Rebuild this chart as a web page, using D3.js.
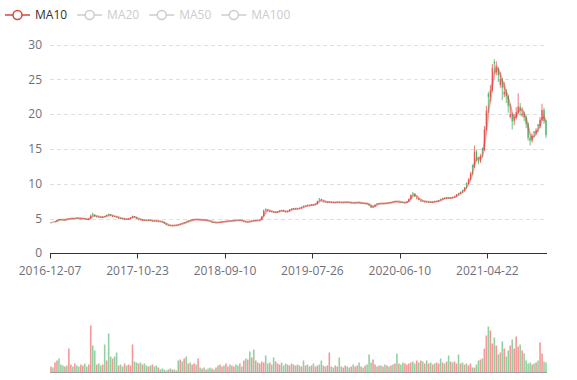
<!DOCTYPE html>
<html>
<head>
<meta charset="utf-8">
<script src="https://cdn.jsdelivr.net/npm/d3@7"></script>
<style>
    html, body { margin: 0; padding: 0; background: #fff; }
    svg { display: block; font-family: "Open Sans", sans-serif; }
</style>
</head>
<body>
<div class="kline-container"></div>
<script>
// category ticks (one data point ~ 4 trading days)
const tickLabels = ["2016-12-07", "2017-10-23", "2018-09-10", "2019-07-26", "2020-06-10", "2021-04-22"];
const tickIndex = [0, 44, 88, 132, 176, 220];
const priceTicks = [0, 5, 10, 15, 20, 25, 30];
const legendNames = ["MA10", "MA20", "MA50", "MA100"];
const maWindow = 3; // ~10 trading days at this sampling

// [open, close, lowest, highest]
const candles = [
    [4.40,4.45,4.35,4.50],[4.58,4.55,4.42,4.60],[4.55,4.60,4.50,4.66],[4.62,4.80,4.58,4.85],[4.95,4.90,4.76,4.98],[4.92,4.85,4.80,4.95],[4.86,4.80,4.74,4.90],[4.80,4.85,4.76,4.90],[4.98,4.95,4.82,5.00],[4.95,5.00,4.90,5.06],
    [5.00,5.05,4.96,5.12],[5.06,5.00,4.95,5.10],[5.00,5.05,4.97,5.08],[5.14,5.10,5.00,5.15],[5.10,5.05,5.00,5.14],[4.98,5.00,4.94,5.08],[5.00,5.05,4.96,5.10],[5.04,4.95,4.90,5.06],[4.96,4.85,4.80,4.98],[4.86,5.00,4.84,5.05],
    [5.02,5.45,5.00,5.60],[5.70,5.55,5.40,5.85],[5.55,5.35,5.30,5.60],[5.26,5.30,5.22,5.40],[5.30,5.25,5.18,5.34],[5.26,5.20,5.14,5.28],[5.20,5.25,5.16,5.30],[5.38,5.35,5.22,5.40],[5.36,5.50,5.32,5.58],[5.66,5.60,5.45,5.72],
    [5.60,5.45,5.40,5.64],[5.32,5.35,5.30,5.50],[5.36,5.30,5.24,5.40],[5.30,5.20,5.15,5.32],[5.06,5.10,5.05,5.24],[5.10,5.05,5.00,5.14],[5.06,5.00,4.95,5.08],[4.92,4.95,4.90,5.04],[4.97,4.95,4.88,5.00],[4.95,5.00,4.92,5.05],
    [5.00,5.15,4.98,5.20],[5.15,5.35,5.12,5.45],[5.34,5.20,5.15,5.38],[5.20,5.00,4.96,5.22],[4.86,4.90,4.85,5.02],[4.90,4.85,4.80,4.94],[4.78,4.80,4.76,4.90],[4.82,4.80,4.74,4.84],[4.80,4.75,4.70,4.82],[4.75,4.80,4.72,4.84],
    [4.80,4.75,4.70,4.82],[4.68,4.70,4.66,4.78],[4.72,4.70,4.64,4.74],[4.70,4.65,4.60,4.72],[4.58,4.60,4.56,4.68],[4.62,4.60,4.54,4.64],[4.60,4.50,4.45,4.62],[4.50,4.30,4.25,4.52],[4.30,4.10,4.05,4.32],[4.02,4.05,3.98,4.14],
    [4.05,4.00,3.92,4.08],[3.98,4.00,3.94,4.04],[4.08,4.05,3.96,4.10],[4.04,4.10,4.00,4.14],[4.18,4.15,4.06,4.20],[4.15,4.25,4.12,4.30],[4.38,4.35,4.22,4.40],[4.35,4.45,4.32,4.50],[4.58,4.55,4.42,4.60],[4.55,4.70,4.52,4.76],
    [4.78,4.75,4.64,4.80],[4.75,4.85,4.72,4.92],[4.85,4.90,4.80,4.96],[4.92,4.85,4.80,4.95],[4.85,4.90,4.82,4.96],[4.90,4.80,4.76,4.92],[4.80,4.85,4.76,4.90],[4.85,4.80,4.75,4.88],[4.72,4.75,4.70,4.82],[4.75,4.70,4.65,4.78],
    [4.70,4.60,4.56,4.72],[4.46,4.50,4.45,4.62],[4.50,4.45,4.40,4.52],[4.44,4.45,4.40,4.50],[4.52,4.50,4.42,4.54],[4.46,4.50,4.45,4.56],[4.50,4.55,4.46,4.60],[4.62,4.60,4.52,4.64],[4.56,4.60,4.55,4.66],[4.60,4.65,4.57,4.70],
    [4.72,4.70,4.62,4.75],[4.68,4.70,4.65,4.76],[4.70,4.75,4.66,4.80],[4.82,4.80,4.72,4.86],[4.80,4.75,4.70,4.82],[4.75,4.80,4.72,4.85],[4.80,4.70,4.66,4.82],[4.56,4.60,4.55,4.72],[4.60,4.50,4.45,4.62],[4.50,4.55,4.46,4.60],
    [4.68,4.65,4.52,4.70],[4.65,4.70,4.62,4.75],[4.72,4.70,4.65,4.76],[4.70,4.75,4.66,4.80],[4.84,4.80,4.72,4.85],[4.76,4.80,4.74,4.86],[4.82,5.30,4.80,5.35],[5.35,6.20,5.30,6.30],[6.40,6.30,6.05,6.50],[6.30,6.15,6.08,6.35],
    [6.00,6.05,5.98,6.20],[6.05,6.00,5.92,6.10],[6.00,5.95,5.88,6.04],[5.84,5.90,5.82,6.00],[5.90,6.00,5.86,6.06],[6.00,6.15,5.96,6.22],[6.24,6.20,6.08,6.28],[6.20,6.05,6.00,6.24],[6.05,5.95,5.88,6.08],[5.95,6.10,5.92,6.16],
    [6.10,6.30,6.06,6.38],[6.45,6.40,6.24,6.48],[6.40,6.45,6.34,6.52],[6.46,6.40,6.32,6.50],[6.40,6.45,6.36,6.50],[6.54,6.50,6.40,6.56],[6.50,6.65,6.46,6.72],[6.85,6.80,6.60,6.88],[6.80,6.85,6.74,6.92],[6.98,6.95,6.80,7.02],
    [6.96,6.90,6.82,7.00],[6.90,7.00,6.86,7.06],[7.02,7.00,6.94,7.08],[7.00,7.10,6.96,7.16],[7.10,7.50,7.06,7.60],[7.90,7.80,7.44,7.95],[7.80,7.60,7.52,7.86],[7.40,7.45,7.38,7.64],[7.46,7.40,7.32,7.50],[7.30,7.35,7.28,7.44],
    [7.35,7.40,7.30,7.46],[7.40,7.35,7.28,7.44],[7.36,7.30,7.24,7.40],[7.30,7.35,7.26,7.40],[7.35,7.40,7.30,7.46],[7.40,7.35,7.30,7.44],[7.36,7.30,7.24,7.38],[7.30,7.35,7.26,7.40],[7.35,7.40,7.30,7.46],[7.40,7.35,7.28,7.42],
    [7.36,7.30,7.24,7.40],[7.28,7.30,7.22,7.36],[7.30,7.25,7.20,7.34],[7.25,7.30,7.20,7.35],[7.30,7.35,7.26,7.40],[7.36,7.30,7.24,7.40],[7.22,7.25,7.18,7.32],[7.26,7.20,7.14,7.30],[7.18,7.20,7.12,7.26],[7.20,7.10,7.04,7.22],
    [7.10,6.90,6.84,7.12],[6.90,6.60,6.50,6.94],[6.60,6.75,6.55,6.82],[6.76,7.00,6.72,7.06],[7.20,7.15,6.96,7.22],[7.15,7.20,7.10,7.26],[7.20,7.15,7.08,7.24],[7.15,7.20,7.10,7.26],[7.22,7.20,7.14,7.28],[7.20,7.25,7.16,7.30],
    [7.34,7.30,7.20,7.36],[7.30,7.35,7.26,7.42],[7.44,7.40,7.30,7.46],[7.40,7.50,7.36,7.56],[7.50,7.45,7.38,7.54],[7.36,7.40,7.34,7.50],[7.40,7.35,7.28,7.44],[7.36,7.30,7.24,7.40],[7.28,7.30,7.22,7.36],[7.30,7.45,7.26,7.52],
    [7.45,7.80,7.40,7.90],[7.80,8.40,7.76,8.50],[8.70,8.60,8.30,8.80],[8.60,8.20,8.10,8.66],[7.86,7.90,7.84,8.24],[7.90,7.70,7.62,7.94],[7.50,7.55,7.48,7.74],[7.56,7.50,7.40,7.60],[7.40,7.45,7.36,7.54],[7.46,7.40,7.30,7.50],
    [7.38,7.40,7.28,7.46],[7.40,7.35,7.26,7.44],[7.35,7.40,7.28,7.46],[7.54,7.50,7.36,7.56],[7.46,7.50,7.42,7.58],[7.50,7.60,7.44,7.66],[7.84,7.80,7.56,7.86],[7.80,7.90,7.72,7.98],[7.98,7.95,7.80,8.02],[7.95,8.00,7.86,8.08],
    [8.02,7.95,7.88,8.06],[7.95,8.00,7.86,8.08],[8.10,8.05,7.92,8.14],[8.05,8.20,8.00,8.28],[8.20,8.45,8.14,8.55],[8.68,8.60,8.38,8.72],[8.60,8.80,8.52,8.90],[9.10,9.00,8.70,9.15],[9.00,9.40,8.92,9.55],[10.10,10.00,9.30,10.20],
    [10.00,10.60,9.90,10.80],[10.60,11.40,10.50,11.70],[12.60,12.40,11.30,12.80],[12.40,14.60,12.30,15.50],[14.60,13.50,13.20,14.90],[13.50,13.20,12.80,13.80],[13.20,14.00,13.00,14.30],[15.10,14.80,13.80,15.20],[14.80,17.80,14.70,18.30],[17.80,20.50,17.60,21.20],
    [22.90,22.50,20.20,23.20],[22.50,23.40,21.80,24.20],[23.40,26.60,23.20,27.20],[27.50,27.30,25.80,27.90],[26.00,26.50,25.60,27.60],[26.50,25.60,24.60,26.80],[24.20,25.00,23.80,26.00],[25.00,23.80,22.00,25.20],[22.80,23.20,22.40,24.60],[23.20,22.60,21.60,23.60],
    [22.60,21.20,20.20,22.80],[19.60,20.00,19.40,21.40],[20.00,19.00,17.80,20.20],[19.00,19.50,18.40,20.00],[19.50,20.30,19.20,21.00],[20.30,21.10,20.00,23.00],[21.10,20.60,19.80,21.60],[19.80,20.10,19.60,21.00],[20.10,19.50,19.00,20.40],[19.50,18.60,18.00,19.80],
    [18.60,16.60,16.20,18.80],[16.60,16.20,15.50,16.90],[16.20,16.90,15.90,17.20],[17.50,17.30,16.70,17.60],[17.30,17.70,17.00,18.00],[18.50,18.30,17.40,18.60],[18.30,19.20,18.00,19.60],[19.20,20.60,19.00,21.50],[20.60,19.00,18.60,20.90],[19.00,17.00,16.60,19.20]
];

// volume, 10k lots
const volumes = [
    6,5,10,12,14,8,7,6,7,24,
    8,6,9,7,6,8,7,9,6,8,
    47,27,22,8,9,7,8,28,12,39,
    16,14,16,20,7,8,6,9,7,8,
    7,28,11,10,9,10,8,9,7,6,
    7,8,6,7,5,3,4,3,2,3,
    4,3,3,2,12,13,11,14,16,9,
    10,8,9,8,14,5,4,5,3,4,
    5,4,3,5,7,8,6,7,9,6,
    8,7,6,8,7,9,6,12,14,13,
    21,15,23,12,10,9,11,10,17,9,
    10,8,15,11,9,8,10,7,9,8,
    7,9,8,7,8,7,6,12,7,8,
    6,7,9,6,7,8,12,7,6,7,
    20,6,5,7,6,15,6,5,7,6,
    5,6,8,6,7,10,6,5,7,8,
    18,10,13,8,6,7,7,6,8,7,
    6,7,8,9,19,9,8,10,9,8,
    9,10,11,9,12,10,12,11,9,12,
    9,10,8,9,10,9,14,10,9,11,
    17,11,10,11,9,18,9,10,8,9,
    7,9,5,5,8,12,13,14,24,37,
    46,42,29,35,27,18,20,31,24,16,
    22,27,33,24,36,26,28,22,19,12,
    9,10,8,9,10,12,30,19,11,10
];

const KLineChart = {
    width: 577,
    height: 380,
    left: 50,
    right: 547,
    priceTop: 44.5,
    priceBottom: 253.5,
    volTop: 324.5,
    volBottom: 372.5,
    upColor: "#eb5454",
    downColor: "#47b262",
    maColor: "#d9473f",
    svg: {},
    load: function() {
        this.svg = d3.select(".kline-container")
            .append("svg")
            .attr("width", this.width)
            .attr("height", this.height)
            .attr("font-size", 12);

        const x = d3.scaleBand()
            .domain(d3.range(candles.length))
            .range([this.left, this.right]);
        const y = d3.scaleLinear()
            .domain([0, 30])
            .range([this.priceBottom, this.priceTop]);
        const yVol = d3.scaleLinear()
            .domain([0, 48])
            .range([this.volBottom, this.volTop]);

        const bw = x.bandwidth();
        const cx = i => x(i) + bw / 2;
        const color = d => d[1] >= d[0] ? this.upColor : this.downColor;

        // grid lines
        this.svg.append("g")
            .selectAll("line")
            .data(priceTicks.filter(v => v > 0))
            .join("line")
            .attr("x1", this.left)
            .attr("x2", this.right)
            .attr("y1", d => Math.round(y(d)) + 0.5)
            .attr("y2", d => Math.round(y(d)) + 0.5)
            .attr("stroke", "#e0e0e0")
            .attr("stroke-dasharray", "4,3");

        // y labels
        this.svg.append("g")
            .attr("text-anchor", "end")
            .attr("fill", "#6e7079")
            .selectAll("text")
            .data(priceTicks)
            .join("text")
            .attr("x", this.left - 8)
            .attr("y", d => y(d))
            .attr("dy", d => d === 0 ? "0.25em" : "0.35em")
            .text(d => d);

        // x axis
        const axis = this.svg.append("g");
        axis.append("line")
            .attr("x1", this.left)
            .attr("x2", this.right)
            .attr("y1", this.priceBottom)
            .attr("y2", this.priceBottom)
            .attr("stroke", "#333");
        axis.selectAll(".tick")
            .data(tickIndex)
            .join("line")
            .attr("class", "tick")
            .attr("x1", d => Math.round(x(d)) + 0.5)
            .attr("x2", d => Math.round(x(d)) + 0.5)
            .attr("y1", this.priceBottom)
            .attr("y2", this.priceBottom + 5)
            .attr("stroke", "#333");
        axis.selectAll("text")
            .data(tickIndex)
            .join("text")
            .attr("x", d => x(d))
            .attr("y", this.priceBottom + 21)
            .attr("text-anchor", "middle")
            .attr("fill", "#6e7079")
            .text((d, i) => tickLabels[i]);

        // candles
        const candle = this.svg.append("g")
            .selectAll("g")
            .data(candles)
            .join("g");

        candle.append("line")
            .attr("x1", (d, i) => cx(i))
            .attr("x2", (d, i) => cx(i))
            .attr("y1", d => y(d[3]))
            .attr("y2", d => y(d[2]))
            .attr("stroke", color)
            .attr("stroke-width", 0.8);

        candle.append("rect")
            .attr("x", (d, i) => cx(i) - bw * 0.3)
            .attr("width", bw * 0.6)
            .attr("y", d => y(Math.max(d[0], d[1])))
            .attr("height", d => Math.max(0.8, Math.abs(y(d[0]) - y(d[1]))))
            .attr("fill", color);

        // MA line
        const ma = candles.map((d, i) => {
            if (i < maWindow - 1) return null;
            return d3.mean(candles.slice(i - maWindow + 1, i + 1), c => c[1]);
        });

        this.svg.append("path")
            .datum(ma.map((v, i) => [i, v]).filter(d => d[1] !== null))
            .attr("fill", "none")
            .attr("stroke", this.maColor)
            .attr("stroke-opacity", 0.5)
            .attr("stroke-width", 2)
            .attr("d", d3.line().x(d => cx(d[0])).y(d => y(d[1])));

        // volume
        this.svg.append("g")
            .selectAll("rect")
            .data(volumes)
            .join("rect")
            .attr("x", (d, i) => cx(i) - bw * 0.4)
            .attr("width", bw * 0.8)
            .attr("y", d => yVol(d))
            .attr("height", d => this.volBottom - yVol(d))
            .attr("fill", (d, i) => color(candles[i]))
            .attr("fill-opacity", 0.6);

        this.svg.append("line")
            .attr("x1", this.left)
            .attr("x2", this.right)
            .attr("y1", this.volBottom)
            .attr("y2", this.volBottom)
            .attr("stroke", "#6e7079")
            .attr("stroke-opacity", 0.6);

        this.drawLegend();
    },
    drawLegend: function() {
        const legend = this.svg.append("g");
        let lx = 5;

        legendNames.forEach((name, i) => {
            const active = i === 0;
            const c = active ? this.maColor : "#ccc";
            const item = legend.append("g").attr("transform", `translate(${lx},15)`);

            item.append("line")
                .attr("x1", 0)
                .attr("x2", 25)
                .attr("stroke", c)
                .attr("stroke-width", 1.5);
            item.append("circle")
                .attr("cx", 12.5)
                .attr("r", 4.5)
                .attr("fill", "#fff")
                .attr("stroke", c)
                .attr("stroke-width", 1.5);
            const t = item.append("text")
                .attr("x", 30)
                .attr("dy", "0.35em")
                .attr("fill", active ? "#333" : "#ccc")
                .text(name);

            lx += 30 + t.node().getComputedTextLength() + 10;
        });
    }
};

KLineChart.load();
</script>
</body>
</html>
